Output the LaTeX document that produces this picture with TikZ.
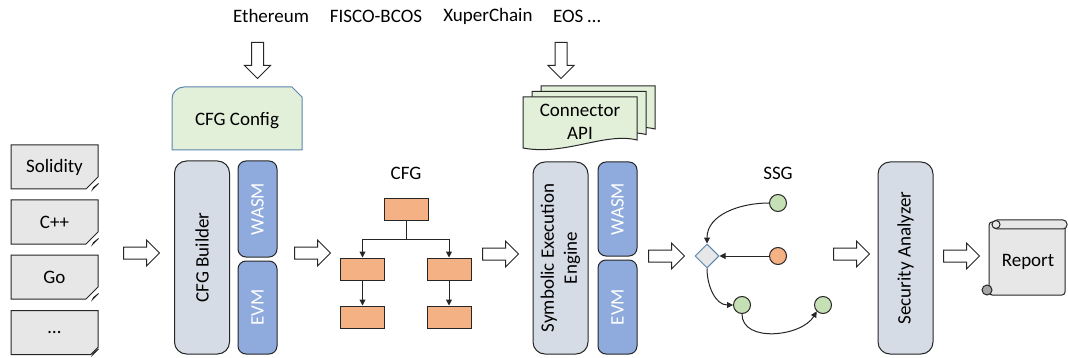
\documentclass[tikz,border=0pt]{standalone}
\usepackage{fontspec}
\setmainfont{Carlito}
\usetikzlibrary{arrows.meta,shapes.arrows,shapes.geometric,shapes.misc}

\definecolor{docgray}{HTML}{E7E7E7}
\definecolor{coreblue}{HTML}{D6DCE5}
\definecolor{vmblue}{HTML}{8FAADC}
\definecolor{confgreen}{HTML}{E2F0D9}
\definecolor{blockorange}{HTML}{F4B183}
\definecolor{ssggreen}{HTML}{C5E0B4}
\definecolor{steelline}{HTML}{5B84B1}
\definecolor{darkline}{HTML}{262626}

\tikzset{
  langbox/.style={chamfered rectangle, chamfered rectangle corners=south east,
    chamfered rectangle xsep=6pt, chamfered rectangle ysep=6pt,
    draw=darkline, line width=1pt, fill=docgray, inner sep=0pt,
    minimum width=87pt, minimum height=44pt},
  corebox/.style={draw=darkline, line width=1pt, fill=coreblue, rounded corners=12pt,
    rotate=90, minimum height=55pt, align=center},
  vmbox/.style={draw=darkline, line width=1pt, fill=vmblue, rounded corners=8pt,
    rotate=90, minimum height=39pt, text=white},
  cfgblock/.style={draw=darkline, line width=1pt, fill=blockorange,
    minimum width=44pt, minimum height=22pt, inner sep=0pt},
  ssgnode/.style={circle, draw=darkline, line width=1pt, minimum size=17pt, inner sep=0pt},
  bigarrow/.style={single arrow, draw=darkline, line width=1pt, fill=white,
    minimum height=36pt, inner sep=5.5pt, single arrow head extend=7pt, anchor=tail},
  flow/.style={draw=darkline, line width=1pt, -{Triangle[width=6pt,length=6pt]}},
  paper/.style={draw=darkline, line width=1pt, fill=confgreen},
  scrollpart/.style={draw=darkline, line width=1pt, fill=docgray},
}

\begin{document}
\begin{tikzpicture}[x=1pt,y=1pt,font=\fontsize{19}{23}\selectfont]
\useasboundingbox (0,0) rectangle (1068,-358);

\node (eth) at (271,-16) {Ethereum};
\node (fisco) at (376,-16) {FISCO-BCOS};
\node (xuper) at (488,-16) {XuperChain};
\node (eos) at (577,-16) {EOS \dots};

\node[langbox] (sol) at (54.5,-167) {Solidity};
\node[langbox] (cpp) at (54.5,-222) {C++};
\node[langbox] (golang) at (54.5,-277) {Go};
\node[langbox] (more) at (54.5,-332.5) {\dots};
\foreach \n in {sol,cpp,golang,more}
  \filldraw[draw=darkline, line width=0.8pt, fill=gray!70]
    ([xshift=-6pt]\n.east |- \n.south) -- ([yshift=6pt]\n.east |- \n.south)
    -- ([xshift=-5pt,yshift=2pt]\n.east |- \n.south) -- cycle;

% builder stage
\draw[draw=steelline, line width=1pt, fill=confgreen]
  (172,-150) -- (302,-150) -- (302,-97) -- (292,-87)
  [rounded corners=12pt] -- (172,-87) [sharp corners] -- cycle;
\node (config) at (237,-121) {CFG Config};
\node[corebox, minimum width=193pt] (builder) at (202,-257.5) {CFG Builder};
\node[vmbox, minimum width=96pt] (wasmA) at (257.5,-209) {WASM};
\node[vmbox, minimum width=93pt] (evmA) at (257.5,-307.5) {EVM};

% control flow graph
\node (cfglabel) at (406,-173) {CFG};
\node[cfgblock] (c0) at (406,-210) {};
\node[cfgblock] (c1) at (362.5,-269) {};
\node[cfgblock] (c2) at (449,-269) {};
\node[cfgblock] (c3) at (362.5,-317) {};
\node[cfgblock] (c4) at (449,-317) {};
\draw[flow] (c0.south) -- ++(0,-18) -| (c1.north);
\draw[flow] (c0.south) -- ++(0,-18) -| (c2.north);
\draw[flow] (c1) -- (c3);
\draw[flow] (c2) -- (c4);

% symbolic execution stage
\foreach \dx/\dy in {18/11,9/5.5,0/0}
  \draw[paper] (523+\dx,-97+\dy) -- (637+\dx,-97+\dy) -- (637+\dx,-140+\dy)
    .. controls (605+\dx,-132+\dy) and (565+\dx,-156+\dy) .. (523+\dx,-148+\dy) -- cycle;
\node[align=center] (api) at (580,-122) {Connector\\API};
\node[corebox, minimum width=192pt] (engine) at (560.5,-258) {Symbolic Execution\\Engine};
\node[vmbox, minimum width=94pt] (wasmB) at (617.5,-209) {WASM};
\node[vmbox, minimum width=94pt] (evmB) at (617.5,-307) {EVM};

% symbolic state graph
\node (ssglabel) at (778,-173) {SSG};
\node[diamond, draw=steelline, line width=1pt, fill=docgray, minimum width=24pt,
  minimum height=24pt, inner sep=0pt] (dia) at (707,-256) {};
\node[ssgnode, fill=ssggreen] (s1) at (778,-203) {};
\node[ssgnode, fill=blockorange] (s2) at (778,-256) {};
\node[ssgnode, fill=ssggreen] (s3) at (742,-305) {};
\node[ssgnode, fill=ssggreen] (s4) at (823,-305) {};
\draw[flow] (s1.west) to[out=180,in=90] (dia.north);
\draw[flow] (s2) -- (dia);
\draw[flow] (dia.south) to[out=-90,in=180] (s3.west);
\draw[flow] (s3.south) to[out=-90,in=-120] (s4.south west);

\node[corebox, minimum width=192pt] (analyzer) at (905.5,-258) {Security Analyzer};

% report scroll
\filldraw[scrollpart, rounded corners=3pt] (989,-222) rectangle (1065,-295);
\filldraw[scrollpart, rounded corners=4pt] (993,-220) rectangle (1067,-229);
\filldraw[scrollpart] (996,-224.5) circle (4pt);
\filldraw[scrollpart, fill=gray!70] (987,-290) circle (5pt);
\node (report) at (1028,-262) {Report};

% stage arrows
\node[bigarrow, rotate=-90] (toconfig) at (257.5,-42) {};
\node[bigarrow, rotate=-90] (toapi) at (561,-42) {};
\node[bigarrow] (tobuilder) at (123,-253) {};
\node[bigarrow] (tocfg) at (294,-253) {};
\node[bigarrow] (toengine) at (482,-254) {};
\node[bigarrow] (tossg) at (648,-256) {};
\node[bigarrow] (toanalyzer) at (833,-254) {};
\node[bigarrow] (toreport) at (943,-256) {};
\end{tikzpicture}
\end{document}
